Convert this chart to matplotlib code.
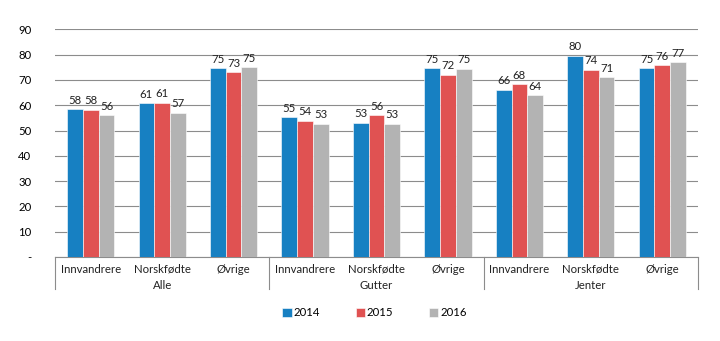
import numpy as np
import matplotlib
matplotlib.use('Agg')
import matplotlib.pyplot as plt
from matplotlib.transforms import blended_transform_factory

plt.rcParams['font.family'] = ['Lato', 'DejaVu Sans']

groups = ['Alle', 'Gutter', 'Jenter']
categories = ['Innvandrere', 'Norskfødte', 'Øvrige']
years = ['2014', '2015', '2016']

# values per year, order: Alle (Innv, Norsk, Øvr), Gutter (...), Jenter (...)
v2014 = [58.4, 60.8, 74.7, 55.3, 53.0, 74.7, 66.1, 79.6, 74.7]
v2015 = [58.2, 61.0, 73.0, 53.8, 56.0, 72.0, 68.2, 74.0, 75.8]
v2016 = [56.1, 57.1, 75.0, 52.7, 52.6, 74.5, 64.0, 71.0, 76.9]
labels2014 = [58, 61, 75, 55, 53, 75, 66, 80, 75]
labels2015 = [58, 61, 73, 54, 56, 72, 68, 74, 76]
labels2016 = [56, 57, 75, 53, 53, 75, 64, 71, 77]

colors = ['#1780c2', '#e05252', '#b3b3b3']
fs = 8.2

fig = plt.figure(figsize=(7.2, 3.41), dpi=100)
ax = fig.add_axes([55 / 720, 1 - 257 / 341, (698 - 55) / 720, (257 - 29.3) / 341])

x = np.arange(len(v2014))
w = 0.22
series = [(v2014, labels2014), (v2015, labels2015), (v2016, labels2016)]
for i, (vals, labs) in enumerate(series):
    pos = x + (i - 1) * w
    ax.bar(pos, vals, width=w, color=colors[i], edgecolor='white', linewidth=0.4,
           label=years[i], zorder=3)
    for p, v, l in zip(pos, vals, labs):
        ax.annotate(str(l), (p, v), xytext=(0, 2.5), textcoords='offset points',
                    ha='center', va='bottom', fontsize=fs, color='#222222')

ax.set_xlim(-0.5, len(x) - 0.5)
ax.set_ylim(0, 90)
ax.set_yticks(range(0, 91, 10))
ax.set_yticklabels(['-'] + [str(t) for t in range(10, 91, 10)], fontsize=fs)
ax.yaxis.grid(True, color='#8c8c8c', linewidth=0.8, zorder=0)
ax.tick_params(axis='y', length=0, pad=17)
ax.set_xticks([])
for s in ['top', 'right', 'left']:
    ax.spines[s].set_visible(False)
ax.spines['bottom'].set_color('#8c8c8c')
ax.spines['bottom'].set_linewidth(0.8)

# two-level category axis
tr = blended_transform_factory(ax.transData, ax.transAxes)
for i in range(len(x)):
    ax.text(i, -0.053, categories[i % 3], transform=tr, ha='center', va='center',
            fontsize=fs, color='#222222')
for g, name in enumerate(groups):
    ax.text(g * 3 + 1, -0.127, name, transform=tr, ha='center', va='center',
            fontsize=fs, color='#222222')
for b in [-0.5, 2.5, 5.5, 8.5]:
    ax.plot([b, b], [0, -0.1405], transform=tr, color='#8c8c8c', linewidth=0.8,
            clip_on=False)

ax.legend(loc='center', bbox_to_anchor=(0.497, -0.245), ncol=3, frameon=False,
          fontsize=fs, handlelength=0.8, handleheight=0.8, handletextpad=0.2,
          columnspacing=3.1)

plt.savefig('out.png', dpi=100)
plt.close()
